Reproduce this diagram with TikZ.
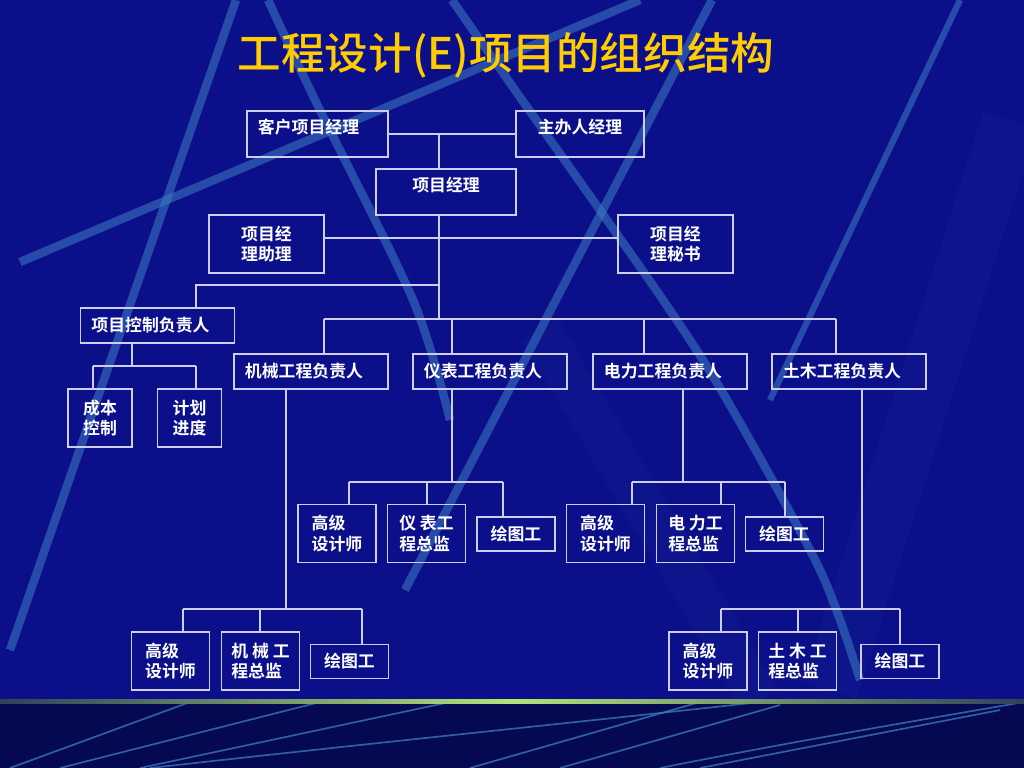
\documentclass[tikz,border=0pt]{standalone}
\usepackage{fontspec}
\newfontfamily\cjk{Noto Sans CJK SC}[BoldFont={Noto Sans CJK SC Bold}]
\newfontfamily\cjktitle{Noto Sans CJK SC Medium}

\definecolor{bgblue}{RGB}{11,15,138}
\definecolor{bandblue}{RGB}{5,9,82}
\definecolor{beam}{RGB}{62,125,195}
\definecolor{linec}{RGB}{205,205,240}
\definecolor{titlegold}{RGB}{255,204,0}
\definecolor{lime}{RGB}{178,228,120}

\tikzset{
  box/.style={draw=linec, line width=1.1pt, text=white, inner sep=0pt,
    font=\cjk\bfseries\fontsize{12}{14.5}\selectfont},
  raised/.style={text height=0.56cm, text depth=0.59cm},
  leadbox/.style={box, minimum height=0.875cm, text width=3.3cm, align=left, inner xsep=0.275cm},
  subbox/.style={box, minimum width=1.95cm, minimum height=1.46cm, align=left},
  drawbox/.style={box, minimum width=1.95cm, minimum height=0.86cm},
  link/.style={draw=linec, line width=0.9pt},
  ray/.style={draw=beam, line width=6pt, opacity=0.55},
  streak/.style={draw=beam, line width=1.2pt, opacity=0.75}
}

\begin{document}
\begin{tikzpicture}[x=0.025cm, y=-0.025cm]
    % Hintergrund
    \fill[bgblue] (0,0) rectangle (1024,768);
    \useasboundingbox (0,0) rectangle (1024,768);
    \draw[beam, line width=40pt, opacity=0.05] (1010,120) -- (830,690);
    \draw[beam, line width=30pt, opacity=0.05] (540,330) -- (760,700);

    % Lichtstrahlen
    \draw[ray] (20,262) -- (640,0);
    \draw[ray] (236,0) -- (10,650);
    \draw[ray] plot[smooth] coordinates {(268,0) (315,100) (413,300) (450,420)};
    \draw[ray] (712,0) -- (405,590);
    \draw[ray] plot[smooth] coordinates {(452,0) (522,100) (663,300) (727,400) (820,570) (860,680)};
    \draw[ray, line width=4.5pt] (960,0) -- (770,400);

    % Fussleiste
    \fill[bandblue] (0,702) rectangle (1024,768);
    \shade[left color=lime!25!bandblue, right color=lime!25!bandblue, middle color=lime] (0,699) rectangle (1024,703);
    \begin{scope}
      \clip (0,704) rectangle (1024,768);
      \draw[streak] (10,768) -- (190,702);
      \draw[streak] (60,768) -- (320,702);
      \draw[streak] (140,768) -- (450,702);
      \draw[streak] (150,768) .. controls (400,740) and (600,720) .. (760,702);
      \draw[streak] (470,768) -- (700,702);
      \draw[streak] (560,768) -- (780,705);
      \draw[streak] (660,768) .. controls (800,740) and (950,715) .. (1024,702);
      \draw[streak] (700,768) -- (1000,710);
    \end{scope}

    % Titel
    \node[font=\cjktitle\fontsize{31}{31}\selectfont, text=titlegold] (title) at (506,55) {工程设计(E)项目的组织结构};

    % Leitung
    \node[box, raised, text width=2.975cm, inner xsep=0.275cm, align=left] (kehu) at (317.5,134) {客户项目经理};
    \node[box, raised, minimum width=3.2cm] (zhuban) at (580,134) {主办人经理};
    \node[box, raised, minimum width=3.5cm] (xmjl) at (446,192) {项目经理};
    \node[box, minimum width=2.875cm, minimum height=1.45cm, align=left] (zhuli) at (266.5,244) {项目经\\理助理};
    \node[box, minimum width=2.875cm, minimum height=1.45cm, align=left] (mishu) at (675.5,244) {项目经\\理秘书};

    % Projektsteuerung
    \node[leadbox] (kongzhi) at (157.5,325.5) {项目控制负责人};
    \node[box, minimum width=1.6cm, minimum height=1.45cm, align=left] (chengben) at (100,418) {成本\\控制};
    \node[box, minimum width=1.6cm, minimum height=1.45cm, align=left] (jihua) at (189.5,418) {计划\\进度};

    % Fachbereiche
    \node[leadbox] (jixie) at (311,371.5) {机械工程负责人};
    \node[leadbox] (yibiao) at (490,371.5) {仪表工程负责人};
    \node[leadbox] (dianli) at (670,371.5) {电力工程负责人};
    \node[leadbox] (tumu) at (849,371.5) {土木工程负责人};

    \node[subbox] (yb-gj) at (337,533.5) {高级\\设计师};
    \node[subbox] (yb-zj) at (426.5,533.5) {仪 表工\\程总监};
    \node[drawbox] (yb-ht) at (516,534) {绘图工};
    \node[subbox] (dl-gj) at (605.5,533.5) {高级\\设计师};
    \node[subbox] (dl-zj) at (695.5,533.5) {电 力工\\程总监};
    \node[drawbox] (dl-ht) at (784.5,534) {绘图工};

    \node[subbox] (jx-gj) at (170.5,661) {高级\\设计师};
    \node[subbox] (jx-zj) at (260.5,661) {机 械 工\\程总监};
    \node[drawbox] (jx-ht) at (349.5,661.5) {绘图工};
    \node[subbox] (tm-gj) at (708,661) {高级\\设计师};
    \node[subbox] (tm-zj) at (797.5,661) {土 木 工\\程总监};
    \node[drawbox] (tm-ht) at (900,661.5) {绘图工};

    % Verbindungen oben
    \coordinate (spine) at (439,134);
    \draw[link] (kehu) -- (zhuban);
    \draw[link] (spine) -- (xmjl.north -| spine);
    \draw[link] (xmjl.south -| spine) -- (spine |- 0,319);
    \draw[link] (zhuli.east |- 0,238) -- (mishu.west |- 0,238);
    \draw[link] (spine |- 0,285) -| (kongzhi.north -| 196,0);

    % Steuerung
    \draw[link] (kongzhi.south -| 132,0) -- (132,366);
    \draw[link] (93,366) -- (196,366);
    \draw[link] (93,366) -- (chengben.north -| 93,0);
    \draw[link] (196,366) -- (jihua.north -| 196,0);

    % Fachbereiche
    \draw[link] (324,319) -- (836,319);
    \foreach \n/\x in {jixie/324, yibiao/452, dianli/644, tumu/836}
      \draw[link] (\x,319) -- (\n.north -| \x,0);

    \draw[link] (jixie.south -| 286,0) -- (286,609);
    \draw[link] (183,609) -- (362,609);
    \foreach \n/\x in {jx-gj/183, jx-zj/260, jx-ht/362}
      \draw[link] (\x,609) -- (\n.north -| \x,0);

    \draw[link] (yibiao.south -| 452,0) -- (452,482);
    \draw[link] (349,482) -- (503,482);
    \foreach \n/\x in {yb-gj/349, yb-zj/427, yb-ht/503}
      \draw[link] (\x,482) -- (\n.north -| \x,0);

    \draw[link] (dianli.south -| 683,0) -- (683,482);
    \draw[link] (632,482) -- (785,482);
    \foreach \n/\x in {dl-gj/632, dl-zj/721, dl-ht/785}
      \draw[link] (\x,482) -- (\n.north -| \x,0);

    \draw[link] (tumu.south -| 862,0) -- (862,609);
    \draw[link] (721,609) -- (900,609);
    \foreach \n/\x in {tm-gj/721, tm-zj/798, tm-ht/900}
      \draw[link] (\x,609) -- (\n.north -| \x,0);
\end{tikzpicture}
\end{document}
